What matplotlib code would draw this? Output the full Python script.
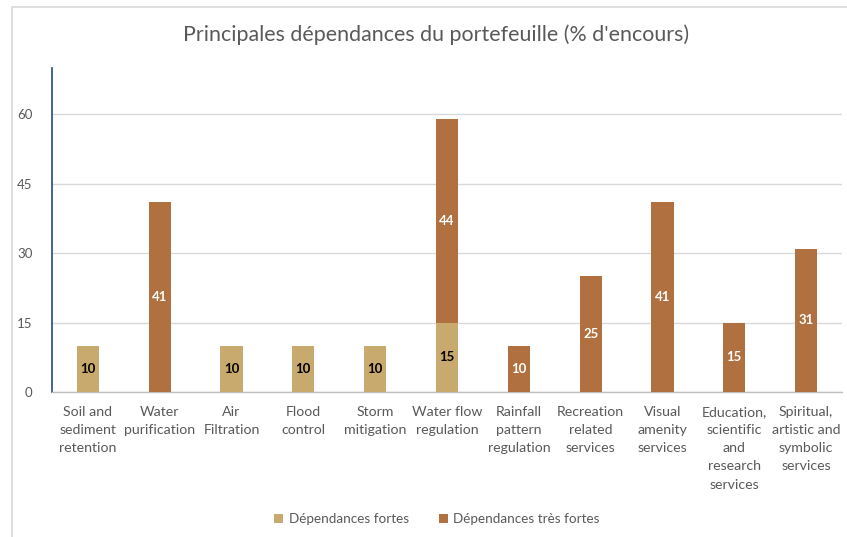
import numpy as np
import matplotlib
matplotlib.use("Agg")
import matplotlib.pyplot as plt
from matplotlib.patches import Rectangle

plt.rcParams['font.family'] = ['Lato', 'DejaVu Sans']

categories = [
    "Soil and\nsediment\nretention",
    "Water\npurification",
    "Air\nFiltration",
    "Flood\ncontrol",
    "Storm\nmitigation",
    "Water flow\nregulation",
    "Rainfall\npattern\nregulation",
    "Recreation\nrelated\nservices",
    "Visual\namenity\nservices",
    "Education,\nscientific\nand\nresearch\nservices",
    "Spiritual,\nartistic and\nsymbolic\nservices",
]
fortes = [10, 0, 10, 10, 10, 15, 0, 0, 0, 0, 0]
tres_fortes = [0, 41, 0, 0, 0, 44, 10, 25, 41, 15, 31]
yticks = [0, 15, 30, 45, 60]

col_fortes = "#C8A96E"
col_tres = "#B07040"
grey_text = "#595959"

fig = plt.figure(figsize=(8.47, 5.37), dpi=100)
ax = fig.add_axes([52 / 847, 1 - 392 / 537, 790 / 847, (392 - 68) / 537])

x = np.arange(len(categories))
w = 0.31
b1 = ax.bar(x, fortes, w, color=col_fortes, label="Dépendances fortes", zorder=3)
b2 = ax.bar(x, tres_fortes, w, bottom=fortes, color=col_tres,
            label="Dépendances très fortes", zorder=3)

for i in range(len(x)):
    if fortes[i]:
        ax.text(x[i], fortes[i] / 2, str(fortes[i]), ha="center", va="center",
                fontsize=9.5, fontweight="bold", color="black", zorder=4)
    if tres_fortes[i]:
        ax.text(x[i], fortes[i] + tres_fortes[i] / 2, str(tres_fortes[i]),
                ha="center", va="center", fontsize=9.5, fontweight="bold",
                color="white", zorder=4)

ax.set_xlim(-0.5, len(x) - 0.5)
ax.set_ylim(0, 70)
ax.set_yticks(yticks)
ax.yaxis.grid(True, color="#D9D9D9", linewidth=1, zorder=0)
ax.set_xticks(x)
ax.set_xticklabels(categories, fontsize=10.2, color=grey_text, linespacing=1.62)
ax.tick_params(axis="both", length=0, colors=grey_text)
ax.tick_params(axis="x", pad=10, labelsize=10.2)
ax.tick_params(axis="y", pad=14, labelsize=9.5)
for lbl in ax.get_xticklabels():
    lbl.set_verticalalignment("top")
for s in ["top", "right"]:
    ax.spines[s].set_visible(False)
ax.spines["left"].set_color("#1F4E79")
ax.spines["left"].set_linewidth(1.2)
ax.spines["bottom"].set_color("#BFBFBF")
ax.spines["bottom"].set_linewidth(1)

fig.text(436 / 847, 1 - 35 / 537, "Principales dépendances du portefeuille (% d'encours)",
         ha="center", va="center", fontsize=15.4, color=grey_text)

fig.legend(handles=[b1, b2], loc="center", bbox_to_anchor=(437 / 847, 1 - 519 / 537),
           ncol=2, frameon=False, fontsize=9.7, handlelength=0.7, handleheight=0.7,
           columnspacing=2.2, handletextpad=0.4, labelcolor=grey_text)

fig.patches.append(Rectangle((12 / 847, -0.1), 1.2, 1 - 7 / 537 + 0.1,
                             transform=fig.transFigure, fill=False,
                             edgecolor="#D9D9D9", linewidth=1.2))

fig.savefig("out.png", dpi=100)
